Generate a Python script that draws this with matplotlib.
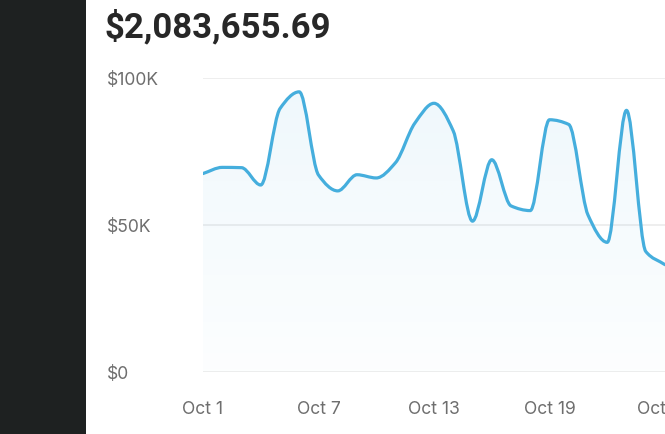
import numpy as np
import matplotlib
matplotlib.use("Agg")
import matplotlib.pyplot as plt
from matplotlib.path import Path
from matplotlib.patches import PathPatch, Rectangle

# daily revenue, Oct 1 .. Oct 25
days = list(range(25))
revenue = [67500, 69600, 69500, 63600, 89600, 95300, 67000, 61600, 67100,
           66000, 71200, 84600, 91400, 82000, 51300, 72200, 56500, 54900,
           85800, 84200, 53400, 44100, 89000, 41000, 36500]
tick_days = [0, 6, 12, 18, 24]
tick_labels = ["Oct 1", "Oct 7", "Oct 13", "Oct 19", "Oct 25"]
y_ticks = [0, 50000, 100000]
y_labels = ["$0", "$50K", "$100K"]
total = "$2,083,655.69"

W, H = 665, 435
line_color = "#45aedd"

plt.rcParams["font.family"] = ["Inter", "DejaVu Sans"]

fig = plt.figure(figsize=(W / 100, H / 100), dpi=100)
fig.patch.set_facecolor("white")

# dark sidebar on the left
fig.patches.append(Rectangle((0, 0), 86 / W, 1, transform=fig.transFigure,
                             facecolor="#1e2121", edgecolor="none", zorder=0))

left_px, right_px = 203, W
top_px, bottom_px = 79, 373
ax = fig.add_axes([left_px / W, (H - bottom_px) / H,
                   (right_px - left_px) / W, (bottom_px - top_px) / H])
px_per_day = 19.56
ax.set_xlim(0, (right_px - left_px) / px_per_day)
ax.set_ylim(0, 100000)


def monotone_bezier(x, y):
    # monotone cubic tangents, then one bezier segment per day
    x = np.asarray(x, float)
    y = np.asarray(y, float)
    h = np.diff(x)
    d = np.diff(y) / h
    m = np.zeros_like(y)
    m[0], m[-1] = d[0], d[-1]
    for i in range(1, len(y) - 1):
        if d[i - 1] * d[i] <= 0:
            m[i] = 0
        else:
            m[i] = 2 / (1 / d[i - 1] + 1 / d[i])
    verts = [(x[0], y[0])]
    codes = [Path.MOVETO]
    for i in range(len(x) - 1):
        verts += [(x[i] + h[i] / 3, y[i] + m[i] * h[i] / 3),
                  (x[i + 1] - h[i] / 3, y[i + 1] - m[i + 1] * h[i] / 3),
                  (x[i + 1], y[i + 1])]
        codes += [Path.CURVE4] * 3
    return verts, codes


verts, codes = monotone_bezier(days, revenue)

# gradient fill under the curve
fill_verts = verts + [(days[-1], 0), (days[0], 0), verts[0]]
fill_codes = codes + [Path.LINETO, Path.LINETO, Path.CLOSEPOLY]
fill_patch = PathPatch(Path(fill_verts, fill_codes), facecolor="none",
                       edgecolor="none", transform=ax.transData)
ax.add_patch(fill_patch)
grad = np.linspace(0, 1, 256)
rgba = np.zeros((256, 1, 4))
rgba[:, 0, :3] = matplotlib.colors.to_rgb(line_color)
rgba[:, 0, 3] = 0.015 + 0.07 * grad
img = ax.imshow(rgba, extent=(0, days[-1], 0, max(revenue)), origin="lower",
                aspect="auto", zorder=1, interpolation="bilinear")
img.set_clip_path(fill_patch)

ax.add_patch(PathPatch(Path(verts, codes), facecolor="none",
                       edgecolor=line_color, lw=2.3, zorder=3,
                       capstyle="round", joinstyle="round"))

for v in y_ticks:
    ax.axhline(v, color="#ebebeb", lw=1.2, zorder=0)

for s in ax.spines.values():
    s.set_visible(False)

ax.set_yticks(y_ticks)
ax.set_yticklabels(y_labels)
ax.set_xticks(tick_days)
ax.set_xticklabels(tick_labels)
ax.tick_params(axis="both", length=0, labelsize=12.6, labelcolor="#6e6e6e")
ax.tick_params(axis="y", pad=69.5)
ax.tick_params(axis="x", pad=20)
for lab in ax.get_yticklabels():
    lab.set_horizontalalignment("left")
for lab in ax.get_xticklabels():
    lab.set_clip_on(False)

fig.text(104 / W, 1 - 37 / H, total, fontsize=25, fontweight="bold",
         color="#272727", va="baseline", ha="left", family="Roboto")

fig.savefig("out.png", dpi=100)
